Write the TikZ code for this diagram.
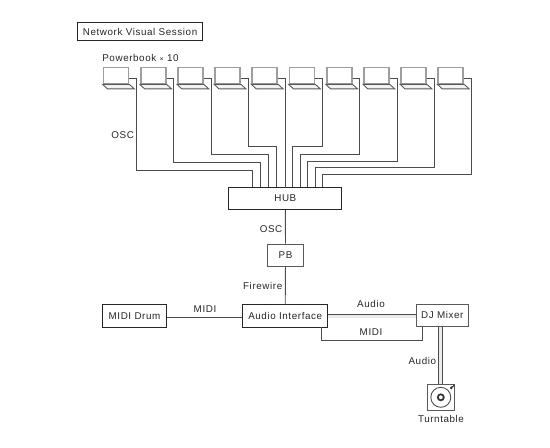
\documentclass[tikz,border=0pt]{standalone}
\usepackage{fontspec}
\setmainfont[LetterSpace=6]{Liberation Sans}
\usetikzlibrary{calc}

\begin{document}
\begin{tikzpicture}[
  x=0.02cm, y=-0.02cm,
  every node/.style={font=\fontsize{5.6}{7}\selectfont, text=black!85},
  box/.style={draw=black!85, line width=0.55pt, inner sep=0pt, fill=white},
  grayBox/.style={draw=black!65, line width=0.5pt, inner sep=0pt, fill=white},
  wire/.style={draw=black!70, line width=0.5pt},
  twin/.style={draw=black!70, line width=0.5pt, double=black!8, double distance=1.7pt},
  screen/.style={draw=black!38, line width=1pt, inner sep=0pt, minimum width=0.5cm, minimum height=0.32cm, fill=white},
  lbl/.style={inner sep=0pt}
]
\useasboundingbox (0,0) rectangle (550,447);

% Title
\node[box, minimum width=2.5cm, minimum height=0.36cm] (title) at (140.1,31.7) {Network Visual Session};
\node[lbl, anchor=west] (books) at (102,57.7) {Powerbook {\fontsize{4}{5}\selectfont ×} 10};

% Hub and chain below it
\node[box, minimum width=2.266cm, minimum height=0.448cm] (hub) at (285.3,198.5) {HUB};
\node[grayBox, minimum width=0.712cm, minimum height=0.454cm] (pb) at (285.5,255.3) {PB};
\node[box, minimum width=1.7cm, minimum height=0.446cm] (audio) at (285.2,316.1) {Audio Interface};
\node[box, minimum width=1.288cm, minimum height=0.446cm] (drum) at (134.5,316.1) {MIDI Drum};
\node[grayBox, minimum width=1.04cm, minimum height=0.446cm] (mixer) at (442.3,315.1) {DJ Mixer};
\node[grayBox, minimum width=0.526cm, minimum height=0.534cm] (table) at (440.8,397.3) {};
\node[lbl] (tablelbl) at (441,419.3) {Turntable};

% Powerbooks
\foreach \i/\midy/\inx in {0/170.3/252.7, 1/162.7/260.3, 2/154.3/268.3, 3/146.7/276.7, 4/187.5/285,
                           5/146.7/292.7, 6/154/300.3, 7/161.3/307.7, 8/167.7/315.3, 9/174/322.7} {
  \node[screen] (lap\i) at ({116+37.2*\i},75.5) {};
  \draw[black!65, line width=0.5pt, fill=black!5]
    (lap\i.south west) -- (lap\i.south east) -- ++(5,4.5) -- ++(-27,0) -- cycle;
  \coordinate (out\i) at ($(lap\i.east)+(0,2.8)$);
  \coordinate (in\i) at (hub.north -| \inx,0);
  \draw[wire] (out\i) -- ++(7.3,0) |- (\inx,\midy) -- (in\i);
}

% Connections
\draw[wire] (hub) -- (pb);
\draw[wire] (pb) -- (audio);
\draw[wire] (drum.east |- 0,317.3) -- (audio.west |- 0,317.3);
\draw[twin] (audio.east) -- (audio.east -| mixer.west);
\draw[twin] (table.north) -- (table.north |- mixer.south);
\coordinate (midia) at (321,327.4);
\coordinate (midib) at (422.7,326.4);
\draw[wire] (midia) |- (midib |- 0,340.7) -- (midib);

% Turntable platter
\draw[black!70, line width=0.5pt] (table) circle (0.2cm);
\draw[black!80, line width=1pt] (table) circle (0.06cm);
\draw[black!80, line width=0.6pt] (table) -- ++(10.5,-9.5);
\fill[black!80] ($(table)+(10.5,-9.5)$) circle (0.03cm);

% Labels
\node[lbl] (osctop) at (122.7,135) {OSC};
\node[lbl] (oschub) at (271,228.7) {OSC};
\node[lbl] (fire) at (262.7,286) {Firewire};
\node[lbl] (mididrum) at (205,309) {MIDI};
\node[lbl] (audiotop) at (371,304.3) {Audio};
\node[lbl] (midimix) at (371,332.3) {MIDI};
\node[lbl] (audiotab) at (422.3,361.3) {Audio};

\end{tikzpicture}
\end{document}
